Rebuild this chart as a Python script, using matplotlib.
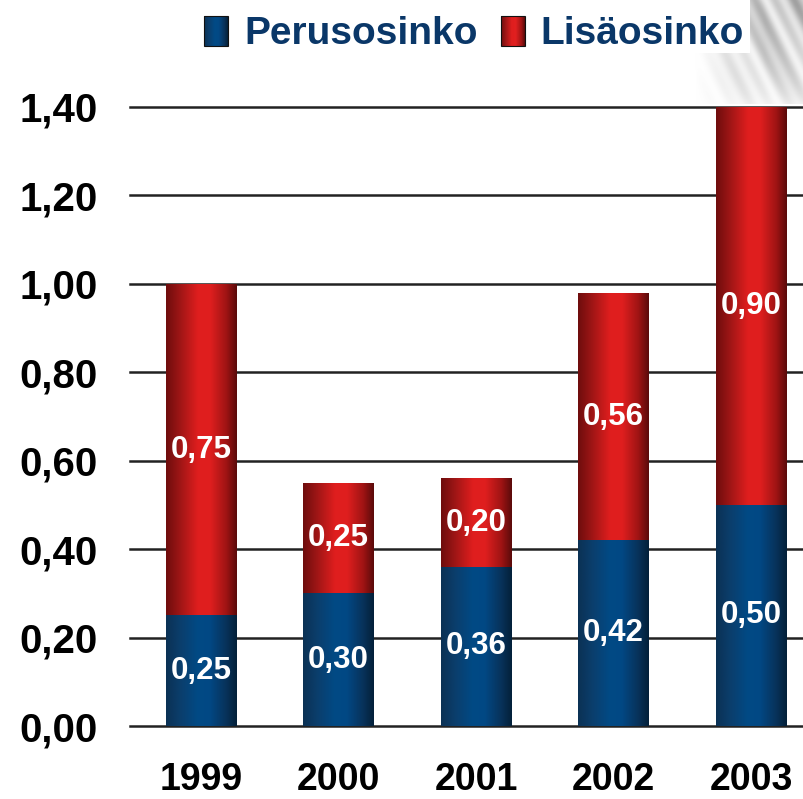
import numpy as np
import matplotlib
matplotlib.use("Agg")
import matplotlib.pyplot as plt
from matplotlib.colors import LinearSegmentedColormap
from matplotlib.patches import Rectangle
from matplotlib.legend_handler import HandlerBase

# ---- data ----
years = ["1999", "2000", "2001", "2002", "2003"]
perus = [0.25, 0.30, 0.36, 0.42, 0.50]
lisa = [0.75, 0.25, 0.20, 0.56, 0.90]
perus_labels = ["0,25", "0,30", "0,36", "0,42", "0,50"]
lisa_labels = ["0,75", "0,25", "0,20", "0,56", "0,90"]
yticks = [0.0, 0.2, 0.4, 0.6, 0.8, 1.0, 1.2, 1.4]
ytick_labels = ["0,00", "0,20", "0,40", "0,60", "0,80", "1,00", "1,20", "1,40"]
series_names = ["Perusosinko", "Lisäosinko"]

plt.rcParams['font.family'] = ['Liberation Sans', 'DejaVu Sans']

red_cmap = LinearSegmentedColormap.from_list(
    "red", [(0.0, '#6e0d0d'), (0.18, '#9a1515'), (0.45, '#df1e1e'),
            (0.62, '#e01f1f'), (0.85, '#a01414'), (1.0, '#5a0a0a')])
blue_cmap = LinearSegmentedColormap.from_list(
    "blue", [(0.0, '#0b3154'), (0.2, '#0b3e6c'), (0.45, '#014a85'),
             (0.62, '#024884'), (0.85, '#08325a'), (1.0, '#032039')])

W, H = 804, 799
fig = plt.figure(figsize=(W / 100, H / 100), dpi=100)
fig.patch.set_facecolor('white')
ax = fig.add_axes([130 / W, 73 / H, 674 / W, 619 / H])

x = np.arange(len(years))
width = 0.51
grad = np.linspace(0, 1, 256).reshape(1, -1)

bars_p = ax.bar(x, perus, width, color='none', edgecolor='none')
bars_l = ax.bar(x, lisa, width, bottom=perus, color='none', edgecolor='none')

for bars, cmap in ((bars_p, blue_cmap), (bars_l, red_cmap)):
    for b in bars:
        x0, y0 = b.get_x(), b.get_y()
        im = ax.imshow(grad, cmap=cmap, aspect='auto', interpolation='bicubic',
                       extent=(x0, x0 + b.get_width(), y0, y0 + b.get_height()),
                       zorder=1.5)
        im.set_clip_path(b)

for i in range(len(years)):
    ax.text(x[i], perus[i] / 2, perus_labels[i], ha='center', va='center',
            color='white', fontsize=22.5, fontweight='bold', zorder=3)
    ax.text(x[i], perus[i] + lisa[i] / 2, lisa_labels[i], ha='center', va='center',
            color='white', fontsize=22.5, fontweight='bold', zorder=3)

ax.set_xlim(-0.516, 4.385)
ax.set_ylim(0, 1.4)
ax.set_yticks(yticks)
ax.set_yticklabels(ytick_labels, fontsize=29, fontweight='bold')
ax.set_xticks(x)
ax.set_xticklabels(years, fontsize=27, fontweight='bold')
ax.tick_params(axis='both', length=0)
ax.tick_params(axis='y', pad=23)
ax.tick_params(axis='x', pad=26)
for s in ax.spines.values():
    s.set_visible(False)
ax.set_axisbelow(True)
ax.yaxis.grid(True, color='#222222', linewidth=1.8)
ax.xaxis.grid(False)
for gl in ax.get_ygridlines():
    gl.set_clip_on(False)

# ---- decoration at top right ----
dx0, dx1, dy1 = 690, 804, 104
xs = np.arange(dx0, dx1) + 0.5
ys = np.arange(0, dy1) + 0.5
XX, YY = np.meshgrid(xs, ys)
s = XX - 0.5 * YY
band = 0.5 + 0.5 * np.sin(2 * np.pi * (s - 760) / 28) * np.cos(2 * np.pi * (s - 700) / 61)
gray = 0.58 + 0.37 * band
alpha = np.clip((XX - 695) / 70, 0, 1) * np.clip(1.05 - YY / dy1, 0, 1) ** 0.5
img = np.dstack([gray, gray, gray, alpha * 0.9])
dec = fig.add_axes([dx0 / W, (H - dy1) / H, (dx1 - dx0) / W, dy1 / H])
dec.imshow(img, aspect='auto', interpolation='bilinear')
dec.axis('off')

fig.patches.append(Rectangle((0, (H - 53) / H), 750 / W, 53 / H,
                             transform=fig.transFigure, facecolor='white',
                             edgecolor='none', zorder=1))


class GradHandler(HandlerBase):
    def __init__(self, cmap):
        super().__init__()
        self.cmap = cmap

    def create_artists(self, legend, orig_handle, xdescent, ydescent,
                       width, height, fontsize, trans):
        n = 24
        arts = []
        for i in range(n):
            arts.append(Rectangle((-xdescent + i * width / n, -ydescent), width / n, height,
                                  facecolor=self.cmap((i + 0.5) / n), edgecolor='none',
                                  transform=trans))
        arts.append(Rectangle((-xdescent, -ydescent), width, height, facecolor='none',
                              edgecolor='#111111', linewidth=0.8, transform=trans))
        return arts


h1 = Rectangle((0, 0), 1, 1)
h2 = Rectangle((0, 0), 1, 1)
leg = fig.legend([h1, h2], series_names, loc='center',
                 bbox_to_anchor=(474 / W, (H - 34) / H), bbox_transform=fig.transFigure,
                 ncol=2, frameon=False, handlelength=0.62, handleheight=0.8,
                 handletextpad=0.4, columnspacing=0.6, labelcolor='#0a3768',
                 prop={'size': 28, 'weight': 'bold'},
                 handler_map={h1: GradHandler(blue_cmap), h2: GradHandler(red_cmap)})
leg.set_zorder(5)

fig.savefig("out.png", dpi=100)
